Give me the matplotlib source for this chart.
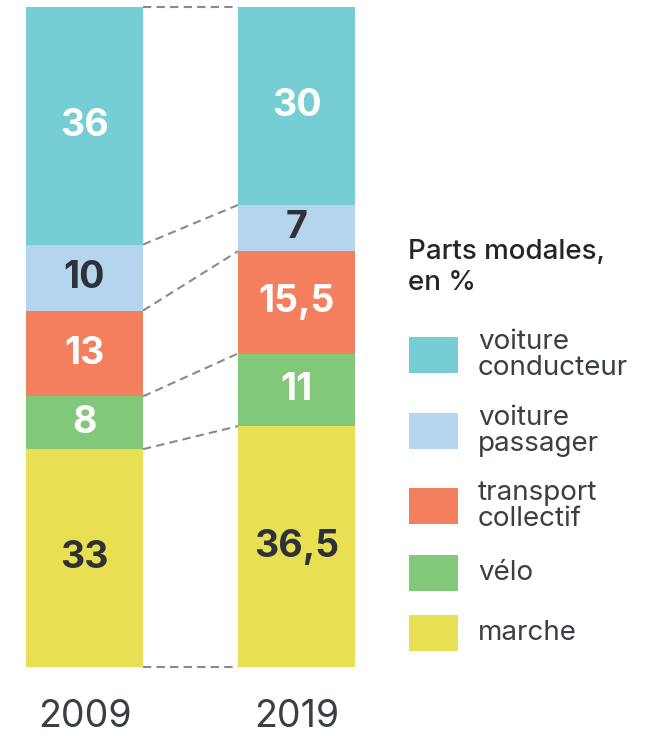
import matplotlib
matplotlib.use("Agg")
import matplotlib.pyplot as plt
from matplotlib.patches import Rectangle
import numpy as np

plt.rcParams['font.family'] = ['Inter', 'DejaVu Sans']

years = ["2009", "2019"]
modes = ["marche", "vélo", "transport\ncollectif", "voiture\npassager", "voiture\nconducteur"]
values_2009 = [33, 8, 13, 10, 36]
values_2019 = [36.5, 11, 15.5, 7, 30]
colors = ["#E8DF52", "#82C87A", "#F37F5F", "#B5D5EF", "#76CDD3"]
text_colors = ["#2E3138", "white", "white", "#2E3138", "white"]
legend_title = "Parts modales,\nen %"

W, H = 651, 736
fig = plt.figure(figsize=(W / 100, H / 100), dpi=100)

# bar axes: px 0..380 horizontally, px 7..667 vertically
ax = fig.add_axes([0, (H - 667) / H, 380 / W, 660 / H])
bar_w = 0.552
ax.set_xlim(-84.5 / 212, (380 - 84.5) / 212)
ax.set_ylim(0, 100)
ax.axis("off")

def fmt(v):
    return ("%g" % v).replace(".", ",")

data = [values_2009, values_2019]
cums = []
for i, vals in enumerate(data):
    bottom = 0
    cum = [0]
    for j, v in enumerate(vals):
        ax.bar(i, v, bottom=bottom, width=bar_w, color=colors[j], edgecolor="none")
        ax.text(i, bottom + v / 2, fmt(v), ha="center", va="center",
                fontsize=27, fontweight="bold", color=text_colors[j])
        bottom += v
        cum.append(bottom)
    cums.append(cum)

for a, b in zip(cums[0], cums[1]):
    ax.plot([0 + bar_w / 2, 1 - bar_w / 2], [a, b], color="#8A8A8A",
            lw=1.5, ls=(0, (4, 2.5)), clip_on=False)

for i, y in enumerate(years):
    fig.text((84.5 + 212 * i) / W, 1 - 717 / H, y, ha="center", va="center",
             fontsize=27, color="#3A3F47")

# legend
fig.text(408 / W, 1 - 268 / H, legend_title, ha="left", va="center",
         fontsize=20, fontweight="medium", color="#22252B", linespacing=1.25)
patch_tops = [615, 555, 488, 413, 337]
for j in range(len(modes) - 1, -1, -1):
    top = patch_tops[j]
    fig.patches.append(Rectangle((409 / W, 1 - (top + 36) / H), 49 / W, 36 / H,
                                 transform=fig.transFigure, facecolor=colors[j],
                                 edgecolor="none"))
    fig.text(478 / W, 1 - (top + 18) / H, modes[j], ha="left", va="center",
             fontsize=20, color="#3A3F47", linespacing=1.0)

fig.savefig("out.png", dpi=100, facecolor="white")
